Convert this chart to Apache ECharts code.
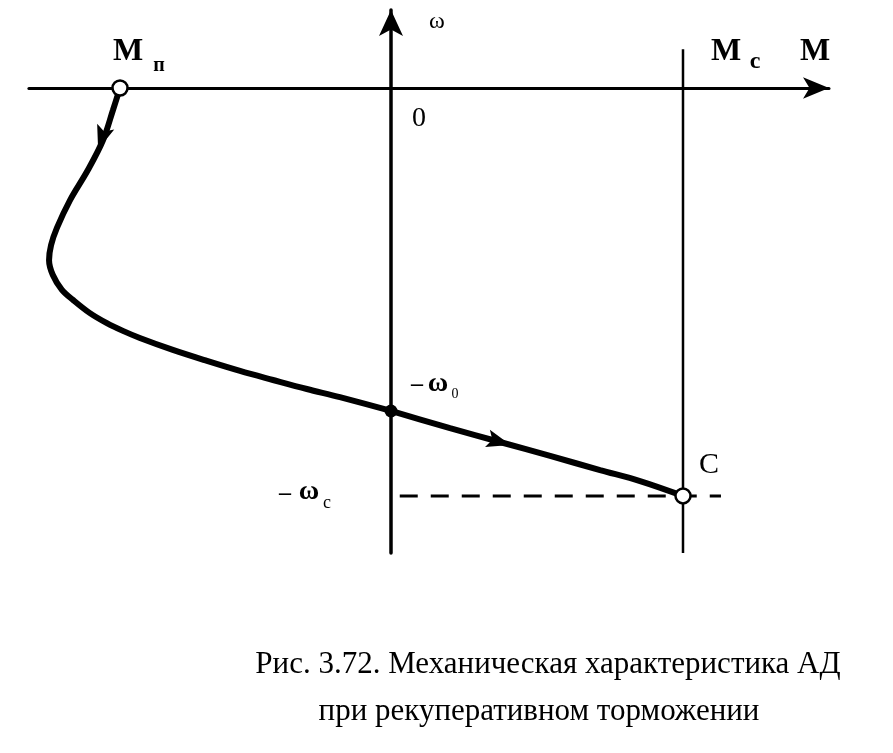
<!DOCTYPE html>
<html><head><meta charset="utf-8">
<script src="https://cdn.jsdelivr.net/npm/echarts@6/dist/echarts.min.js"></script>
<style>html,body{margin:0;padding:0;background:#fff}#c{width:893px;height:753px}</style>
</head><body><div id="c"></div>
<script>
// Mechanical characteristic: M (torque, Mc = 1) vs ω (speed, ω0 = 1)
const curveM = [-0.928,-0.952,-0.986,-1.038,-1.099,-1.144,-1.164,-1.171,-1.158,-1.127,-1.089,-1.031,-0.973,-0.918,-0.860,-0.747,-0.630,-0.517,-0.404,-0.288,-0.175,0,0.202,0.373,0.545,0.716,0.853,1.0];
const curveW = [0,-0.068,-0.161,-0.254,-0.347,-0.433,-0.486,-0.533,-0.579,-0.625,-0.656,-0.697,-0.728,-0.752,-0.774,-0.811,-0.845,-0.876,-0.904,-0.932,-0.957,-1,-1.053,-1.096,-1.139,-1.183,-1.217,-1.263];
const Mp = -0.928, Mc = 1.0, w0 = -1.0, wc = -1.263;
const arrowM = [-0.99, 0.37];
const arrowW = [-0.155, -1.095];
const arrowRot = [161.6, -105.6];
const dashM = [0.03, 1.13];
const McLineW = [0.12, -1.44];
const caption = ['Рис. 3.72. Механическая характеристика АД', 'при рекуперативном торможении'];

const serif = '"Liberation Serif","DejaVu Serif",serif';
const chart = echarts.init(document.getElementById('c'));
const axisCommon = {
  type: 'value', axisTick:{show:false}, axisLabel:{show:false}, splitLine:{show:false}
};
function txt(t, x, y, size, weight) {
  return {type:'text', x:x, y:y, style:{text:t, font: (weight||'normal')+' '+size+'px '+serif, fill:'#000', align:'center', verticalAlign:'middle'}};
}
chart.setOption({
  animation: false,
  backgroundColor: '#fff',
  grid: {left: 28.9, width: 800.1, top: 10, height: 543.1},
  xAxis: Object.assign({}, axisCommon, {min:-1.24, max:1.5,
    axisLine:{onZero:true, symbol:['none','arrow'], symbolSize:[16,26], lineStyle:{color:'#000', width:3}}}),
  yAxis: Object.assign({}, axisCommon, {min:-1.44, max:0.2415,
    axisLine:{onZero:true, symbol:['none','arrow'], symbolSize:[18,26], lineStyle:{color:'#000', width:3.5}}}),
  series: [
    {type:'line', data:[[Mc, McLineW[0]],[Mc, McLineW[1]]], symbol:'none', lineStyle:{color:'#000', width:2.5}},
    {type:'line', data:[[dashM[0], wc],[dashM[1], wc]], symbol:'none', lineStyle:{color:'#000', width:3, type:[18,13]}},
    {type:'line', data: curveM.map((m,i)=>[m, curveW[i]]), smooth:0.35, symbol:'none', lineStyle:{color:'#000', width:6}},
    {type:'scatter', z:10, data: arrowM.map((m,i)=>({value:[m, arrowW[i]], symbolRotate: arrowRot[i]})),
      symbol:'path://M0,-10L7,9L0,5L-7,9Z', symbolSize:[18,24], itemStyle:{color:'#000', opacity:1}},
    {type:'scatter', z:10, data:[[0, w0]], symbol:'circle', symbolSize:13, itemStyle:{color:'#000', opacity:1}},
    {type:'scatter', z:11, data:[[Mp, 0],[Mc, wc]], symbol:'circle', symbolSize:15,
      itemStyle:{color:'#fff', borderColor:'#000', borderWidth:2.5, opacity:1}}
  ],
  graphic: [
    txt('ω', 437, 22, 24),
    txt('M', 815, 52, 32, 'bold'),
    txt('M', 128, 52, 32, 'bold'), txt('п', 159, 66, 20, 'bold'),
    txt('M', 726, 52, 32, 'bold'), txt('c', 755, 62, 24, 'bold'),
    txt('0', 419, 119, 28),
    txt('–', 417, 385, 24, 'bold'), txt('ω', 438, 384, 28, 'bold'), txt('0', 455, 394, 14),
    txt('–', 285, 494, 24, 'bold'), txt('ω', 309, 492, 28, 'bold'), txt('c', 327, 503, 18),
    txt('C', 709, 465, 30),
    txt(caption[0], 548, 665, 31),
    txt(caption[1], 539, 712, 31)
  ]
});
</script></body></html>
